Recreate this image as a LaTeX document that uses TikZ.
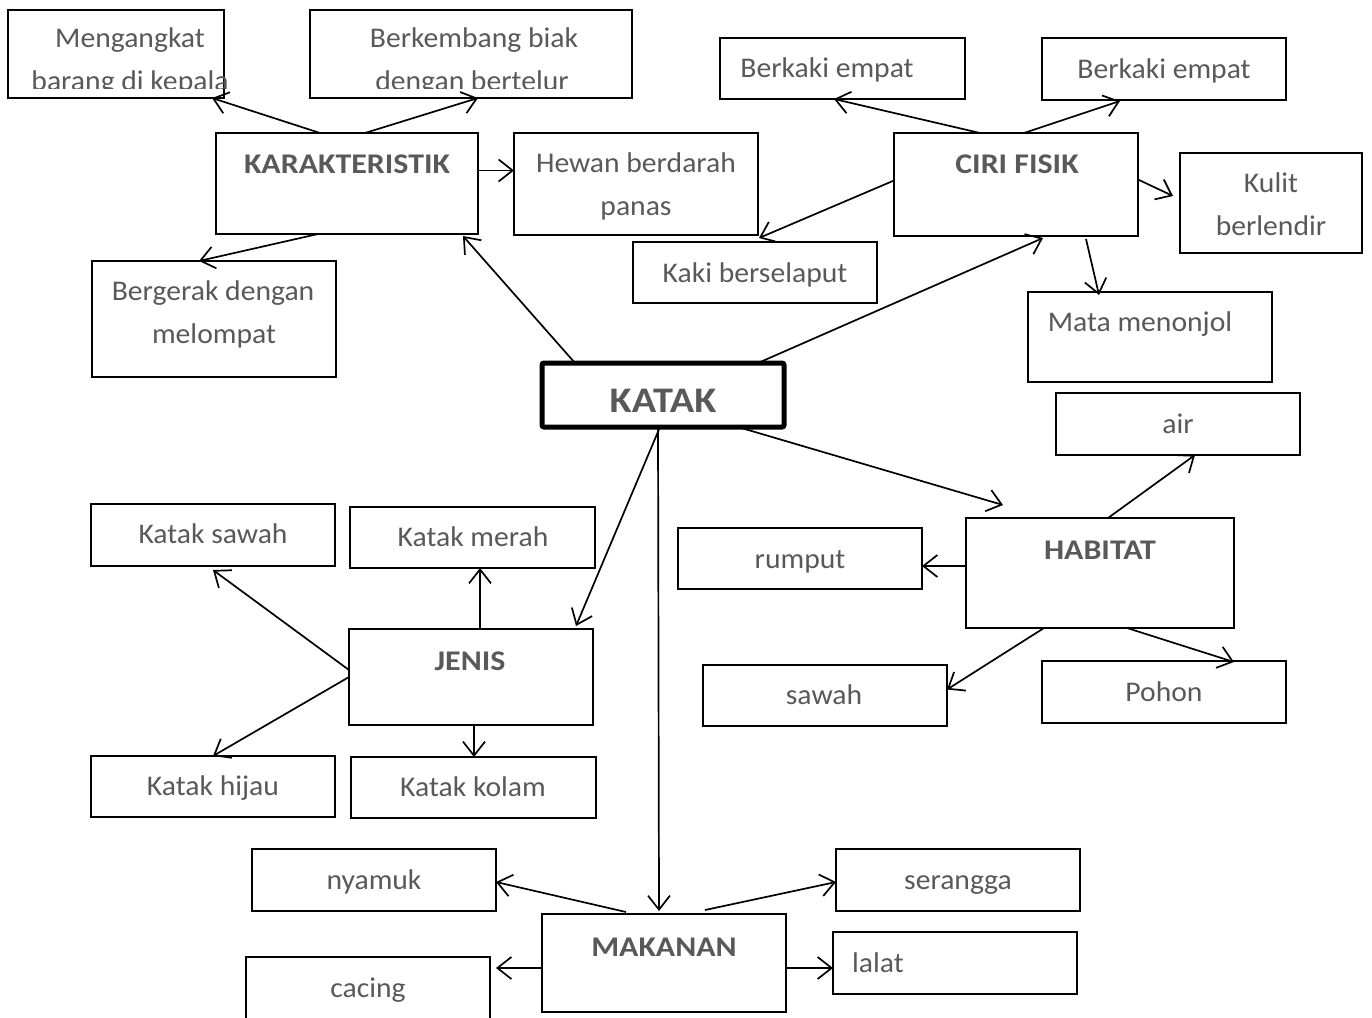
\documentclass[tikz,border=0pt]{standalone}
\usepackage{fontspec}
\setmainfont{Carlito}[FakeStretch=1.04]
\newfontfamily\bwide{Carlito}[FakeStretch=1.12]
\usetikzlibrary{arrows.meta,calc}
\definecolor{tgray}{HTML}{595959}
\newcommand\mybox[5]{\node[box, minimum width={(#4-#2)*1pt}, minimum height={(#5-#3)*1pt}] (#1) at (#2,#3) {};}
\begin{document}
\begin{tikzpicture}[x=1pt,y=-1pt,
 box/.style={draw, line width=1.2pt, anchor=north west, inner sep=0pt, outer sep=0pt},
 txt/.style={anchor=base, inner sep=0pt, text=tgray, font=\fontsize{28.5}{34}\selectfont},
 btxt/.style={anchor=base, inner sep=0pt, text=tgray, font=\bwide\fontsize{28.5}{34}\selectfont\bfseries},
 arr/.style={draw, line width=1.7pt, -{Straight Barb[length=14pt,width=22pt]}}]
\clip (0,0) rectangle (1372,1017);
\fill[white] (0,0) rectangle (1372,1017);
% boxes
\mybox{meng}{8}{10}{224}{98}
\mybox{berk}{310}{10}{632}{98}
\mybox{kar}{216}{133}{478}{234}
\mybox{hew}{514}{133}{758}{235}
\mybox{berg}{92}{261}{336}{377}
\mybox{bka}{720}{38}{965}{99}
\mybox{bkb}{1042}{38}{1286}{100}
\mybox{ciri}{894}{133}{1138}{236}
\mybox{kul}{1180}{153}{1362}{253}
\mybox{kaki}{633}{242}{877}{303}
\mybox{mata}{1028}{292}{1272}{382}
\node[box, line width=5pt, rounded corners=2pt, minimum width=242pt, minimum height=64pt] (katak) at (542,363) {};
\mybox{air}{1056}{393}{1300}{455}
\mybox{hab}{966}{518}{1234}{628}
\mybox{rum}{678}{528}{922}{589}
\mybox{saw}{703}{665}{947}{726}
\mybox{poh}{1042}{661}{1286}{723}
\mybox{ksaw}{91}{504}{335}{566}
\mybox{kmer}{350}{507}{595}{568}
\mybox{jen}{349}{629}{593}{725}
\mybox{khij}{91}{756}{335}{817}
\mybox{kkol}{351}{757}{596}{818}
\mybox{nya}{252}{849}{496}{911}
\mybox{ser}{836}{849}{1080}{911}
\mybox{mak}{542}{914}{786}{1012}
\mybox{lal}{833}{932}{1077}{994}
\mybox{cac}{246}{957}{490}{1040}
% texts
\begin{scope}
\clip (8,10) rectangle (632,88);
\node[txt] (t-meng1) at (130,47) {Mengangkat};
\node[txt] (t-meng2) at (130,90) {barang di kepala};
\node[txt] (t-berk1) at (474,47) {Berkembang biak};
\node[txt] (t-berk2) at (472,90) {dengan bertelur};
\end{scope}
\node[btxt] (t-kar) at (347,173) {KARAKTERISTIK};
\node[txt] (t-hew1) at (636,172) {Hewan berdarah};
\node[txt] (t-hew2) at (636,215) {panas};
\node[txt] (t-berg1) at (213,300) {Bergerak dengan};
\node[txt] (t-berg2) at (214,343) {melompat};
\node[txt] (t-bka) at (827,77) {Berkaki empat};
\node[txt] (t-bkb) at (1164,78) {Berkaki empat};
\node[btxt] (t-ciri) at (1017,173) {CIRI FISIK};
\node[txt] (t-kul1) at (1271,192) {Kulit};
\node[txt] (t-kul2) at (1271,235) {berlendir};
\node[txt] (t-kaki) at (755,282) {Kaki berselaput};
\node[txt] (t-mata) at (1140,331) {Mata menonjol};
\node[anchor=base, inner sep=0pt, text=tgray, font=\bwide\fontsize{36}{40}\selectfont\bfseries] (t-katak) at (663,412) {KATAK};
\node[txt] (t-air) at (1178,433) {air};
\node[btxt] (t-hab) at (1100,559) {HABITAT};
\node[txt] (t-rum) at (800,568) {rumput};
\node[txt] (t-saw) at (824,704) {sawah};
\node[txt] (t-poh) at (1164,701) {Pohon};
\node[txt] (t-ksaw) at (213,543) {Katak sawah};
\node[txt] (t-kmer) at (473,546) {Katak merah};
\node[btxt] (t-jen) at (470,670) {JENIS};
\node[txt] (t-khij) at (213,795) {Katak hijau};
\node[txt] (t-kkol) at (473,796) {Katak kolam};
\node[txt] (t-nya) at (374,889) {nyamuk};
\node[txt] (t-ser) at (958,889) {serangga};
\node[btxt] (t-mak) at (664,956) {MAKANAN};
\node[txt] (t-lal) at (878,972) {lalat};
\node[txt] (t-cac) at (368,997) {cacing};
% connectors
\coordinate (habin) at (1003,505);
\draw[arr] ([xshift=104pt]kar.north west) -- ([xshift=-12pt]meng.south east);
\draw[arr] ([xshift=149pt]kar.north west) -- ([xshift=168pt]berk.south west);
\draw[arr] ([yshift=13pt]kar.east) -- ([yshift=13pt]kar.east -| hew.west);
\draw[arr] ([xshift=102pt]kar.south west) -- ([xshift=107pt]berg.north west);
\draw[arr] ([xshift=33pt]katak.north west) -- ([xshift=-15pt,yshift=-2pt]kar.south east);
\draw[arr] ([xshift=-26pt]katak.north east) -- ([xshift=149pt,yshift=-2pt]ciri.south west);
\draw[arr] ([xshift=86pt]ciri.north west) -- ([xshift=114pt]bka.south west);
\draw[arr] ([xshift=130pt]ciri.north west) -- ([xshift=78pt,yshift=-1pt]bkb.south west);
\draw[arr] ([yshift=4pt]ciri.west) -- ([xshift=-118pt,yshift=4pt]kaki.north east);
\draw[arr] ([yshift=5pt]ciri.east) -- ([xshift=-7pt,yshift=7pt]kul.west);
\draw[arr] ([xshift=192pt,yshift=-3pt]ciri.south west) -- ([xshift=71pt,yshift=-3pt]mata.north west);
\draw[arr] ([xshift=-46pt]katak.south east) -- (habin);
\draw[arr] ([xshift=142pt]hab.north west) -- ([xshift=139pt]air.south west);
\draw[arr] ([yshift=7pt]hab.west) -- ([yshift=7pt]hab.west -| rum.east);
\draw[arr] ([xshift=78pt]hab.south west) -- ([yshift=6pt]saw.east);
\draw[arr] ([xshift=161pt]hab.south west) -- ([xshift=192pt,yshift=-1pt]poh.north west);
\draw[arr] ([xshift=-3pt]katak.south) -- ([xshift=-17pt,yshift=3pt]jen.north east);
\draw[arr] ([xshift=-5pt]katak.south) -- ([xshift=-5pt,yshift=3pt]mak.north);
\draw[arr] ([xshift=131pt]jen.north west) -- ([xshift=131pt]jen.north west |- kmer.south);
\draw[arr] ([yshift=7pt]jen.west) -- ([yshift=-4pt]ksaw.south);
\draw[arr] (jen.west) -- (khij.north);
\draw[arr] ([xshift=125pt]jen.south west) -- ([xshift=125pt]jen.south west |- kkol.north);
\draw[arr] ([xshift=84pt,yshift=2pt]mak.north west) -- ([yshift=-2pt]nya.east);
\draw[arr] ([xshift=163pt,yshift=4pt]mak.north west) -- ([yshift=-2pt]ser.west);
\draw[arr] ([yshift=-5pt]mak.west) -- ([yshift=-5pt,xshift=-46pt]mak.west);
\draw[arr] ([yshift=-5pt]mak.east) -- ([yshift=-5pt]mak.east -| lal.west);
\end{tikzpicture}
\end{document}
